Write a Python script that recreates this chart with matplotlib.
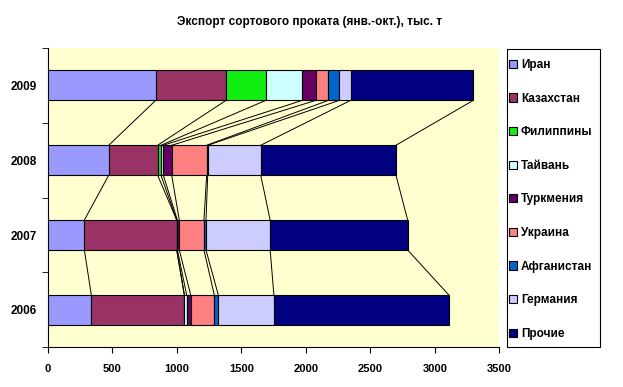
import matplotlib
matplotlib.use("Agg")
import matplotlib.pyplot as plt
from matplotlib.patches import Rectangle
import numpy as np

plt.rcParams['font.family'] = ['Liberation Sans', 'DejaVu Sans']

years = ['2006', '2007', '2008', '2009']
countries = ['Иран', 'Казахстан', 'Филиппины', 'Тайвань', 'Туркмения',
             'Украина', 'Афганистан', 'Германия', 'Прочие']
colors = ['#9999FF', '#993366', '#11EE11', '#CCFFFF', '#660066',
          '#FF8080', '#0066CC', '#CCCCFF', '#000080']

# тыс. т по годам (2006, 2007, 2008, 2009)
iran        = [338, 284, 473, 837]
kazakhstan  = [721, 716, 379, 545]
philippines = [0, 0, 26, 308]
taiwan      = [18, 5, 18, 283]
turkmenia   = [31, 15, 65, 104]
ukraine     = [183, 191, 271, 98]
afghanistan = [31, 16, 8, 85]
germany     = [431, 497, 411, 88]
others      = [1355, 1066, 1048, 950]

series = [iran, kazakhstan, philippines, taiwan, turkmenia,
          ukraine, afghanistan, germany, others]

fig = plt.figure(figsize=(6.23, 3.87), dpi=100)
ax = fig.add_axes([47.7/623, 1-347.3/387, (499.3-47.7)/623, (347.3-48)/387])
ax.set_facecolor('#FFFFD0')

y = np.arange(len(years))
h = 0.4
left = np.zeros(len(years))
cums = []
for name, vals, c in zip(countries, series, colors):
    vals = np.array(vals, dtype=float)
    ax.barh(y, vals, height=h, left=left, color=c, edgecolor='black',
            linewidth=0.8, label=name, zorder=3)
    left = left + vals
    cums.append(left.copy())

# линии рядов
for cum in cums:
    for i in range(len(years) - 1):
        ax.plot([cum[i], cum[i+1]], [y[i] + h/2, y[i+1] - h/2],
                color='black', linewidth=0.7, zorder=2)

ax.set_xlim(0, 3500)
ax.set_ylim(-0.5, 3.5)
ax.set_xticks(range(0, 3501, 500))
ax.set_xticklabels([str(v) for v in range(0, 3501, 500)], fontsize=8, fontweight='bold')
ax.set_yticks(y)
ax.set_yticklabels(years, fontsize=8.5, fontweight='bold')
ax.set_yticks(np.arange(-0.5, 3.6, 1), minor=True)
ax.tick_params(axis='y', which='major', length=0, pad=8)
ax.tick_params(axis='y', which='minor', length=4, direction='out')
ax.tick_params(axis='x', length=4, direction='out', pad=8)
for s in ['top', 'right']:
    ax.spines[s].set_visible(False)
ax.spines['left'].set_linewidth(0.8)
ax.spines['bottom'].set_linewidth(0.8)

fig.text(310/623, 1-22/387, 'Экспорт сортового проката (янв.-окт.), тыс. т',
         ha='center', va='center', fontsize=8.5, fontweight='bold')

# рамка легенды
fig.patches.append(Rectangle((507/623, 1-347/387), 93/623, 298/387,
                             transform=fig.transFigure, facecolor='white',
                             edgecolor='black', linewidth=0.8, zorder=0))
fig.legend(loc='upper left', bbox_to_anchor=(509/623, 1-59/387),
           borderaxespad=0, borderpad=0, frameon=False,
           prop={'size': 8.5, 'weight': 'bold'},
           handlelength=0.7, handleheight=0.7, handletextpad=0.3,
           labelspacing=1.83)

fig.savefig('out.png', dpi=100)
